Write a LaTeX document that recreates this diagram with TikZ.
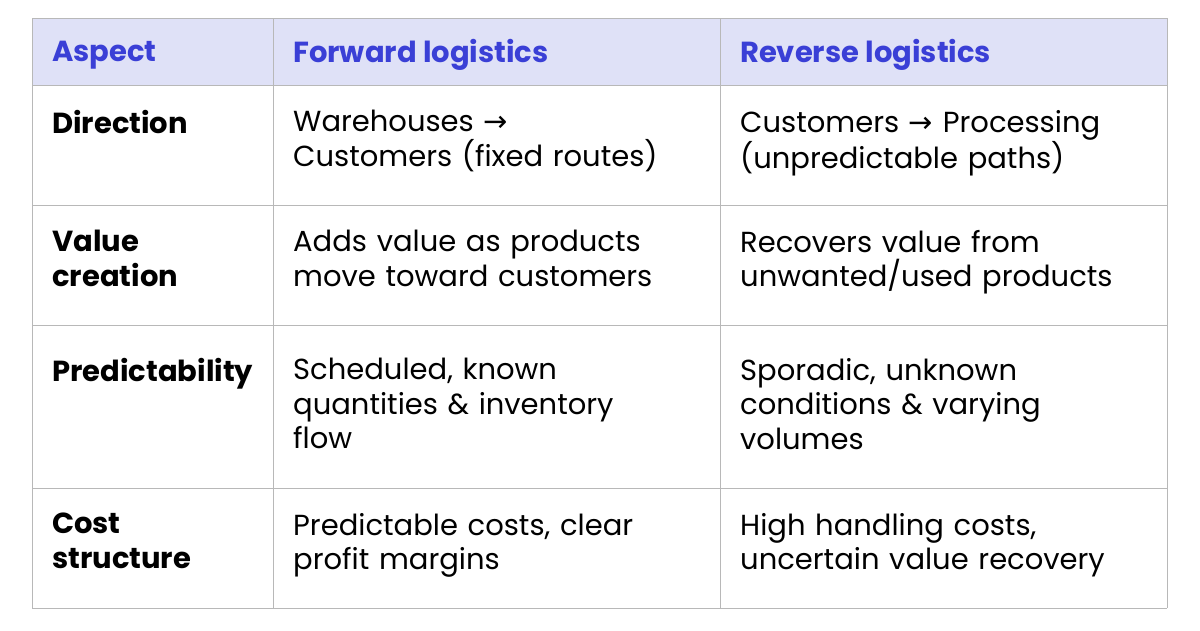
\documentclass[tikz,border=0pt]{standalone}
\usepackage{fontspec}
\setmainfont{Poppins}
\newfontfamily\arrowfont{DejaVu Sans}
\usetikzlibrary{positioning}
\newcommand{\ar}{{\arrowfont→}}
\definecolor{headbg}{HTML}{DFE1F7}
\definecolor{headfg}{HTML}{3A3FD6}
\definecolor{gridc}{HTML}{B8B8B8}
\tikzset{
  cell/.style={anchor=north west, inner sep=0pt, align=left, text width=#1,
    font=\fontsize{29}{34.5}\selectfont},
  head/.style={anchor=west, inner sep=0pt, font=\fontsize{29}{34.5}\selectfont\bfseries, text=headfg},
}
\begin{document}
\begin{tikzpicture}[x=1pt,y=-1pt]
  \useasboundingbox (0,0) rectangle (1200,630);
  % header
  \fill[headbg] (32,18) rectangle (1167,85);
  % grid
  \foreach \y in {18,85,205,325,488,608}
    \draw[gridc, line width=0.8pt] (32,\y) -- (1167,\y);
  \foreach \x in {32,273,720,1167}
    \draw[gridc, line width=0.8pt] (\x,18) -- (\x,608);
  % header texts
  \node[head] (hA) at (52,55) {Aspect};
  \node[head] (hF) at (293,55) {Forward logistics};
  \node[head] (hR) at (740,55) {Reverse logistics};
  % rows
  \node[cell=215pt, font=\fontsize{29}{34.5}\selectfont\bfseries] (d1) at (52,110) {Direction};
  \node[cell=420pt] (d2) at (293,110) {Warehouses \ar\\Customers (fixed routes)};
  \node[cell=420pt] (d3) at (740,110) {Customers \ar{} Processing\\(unpredictable paths)};
  \node[cell=215pt, font=\fontsize{29}{34.5}\selectfont\bfseries] (v1) at (52,230) {Value\\creation};
  \node[cell=420pt] (v2) at (293,230) {Adds value as products\\move toward customers};
  \node[cell=420pt] (v3) at (740,230) {Recovers value from\\unwanted/used products};
  \node[cell=215pt, font=\fontsize{29}{34.5}\selectfont\bfseries] (p1) at (52,358) {Predictability};
  \node[cell=420pt] (p2) at (293,358) {Scheduled, known\\quantities \& inventory\\flow};
  \node[cell=420pt] (p3) at (740,358) {Sporadic, unknown\\conditions \& varying\\volumes};
  \node[cell=215pt, font=\fontsize{29}{34.5}\selectfont\bfseries] (c1) at (52,513) {Cost\\structure};
  \node[cell=420pt] (c2) at (293,513) {Predictable costs, clear\\profit margins};
  \node[cell=420pt] (c3) at (740,513) {High handling costs,\\uncertain value recovery};
\end{tikzpicture}
\end{document}
